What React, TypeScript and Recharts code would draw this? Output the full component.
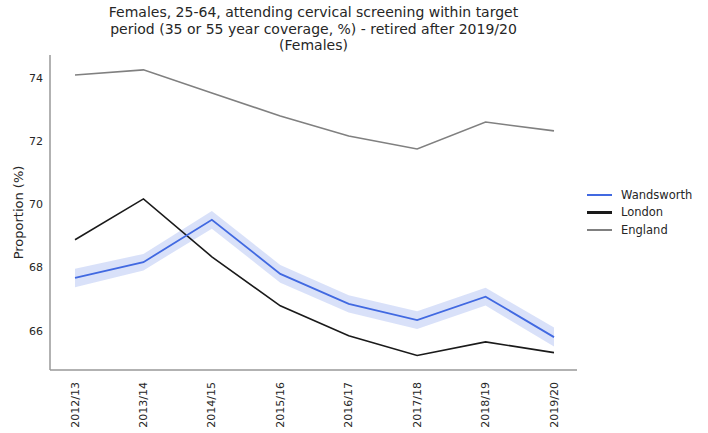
import React from "react";
import { ComposedChart, Line, Area, XAxis, YAxis } from "recharts";

// reading the picture, values in %
const years = ["2012/13", "2013/14", "2014/15", "2015/16", "2016/17", "2017/18", "2018/19", "2019/20"];
const wandsworth = [67.67, 68.17, 69.51, 67.8, 66.85, 66.34, 67.08, 65.8];
const wandsworthLower = [67.38, 67.91, 69.23, 67.52, 66.58, 66.06, 66.8, 65.5];
const wandsworthUpper = [67.96, 68.43, 69.79, 68.08, 67.12, 66.62, 67.36, 66.1];
const london = [68.88, 70.17, 68.34, 66.79, 65.84, 65.22, 65.65, 65.31];
const england = [74.09, 74.25, 73.52, 72.79, 72.16, 71.75, 72.6, 72.32];
const yTicks = [66, 68, 70, 72, 74];

const seriesNames = ["Wandsworth", "London", "England"];
const seriesColors = ["#4169e1", "#1a1a1a", "#808080"];

const font = "'DejaVu Sans', sans-serif";

const data = years.map((y, i) => ({
  year: y,
  wandsworth: wandsworth[i],
  band: [wandsworthLower[i], wandsworthUpper[i]],
  london: london[i],
  england: england[i],
}));

const XTick = (props: any) => {
  const { x, y, payload } = props;
  return (
    <text
      x={x}
      y={y + 10}
      transform={`rotate(-90, ${x}, ${y + 10})`}
      textAnchor="end"
      dominantBaseline="central"
      fontSize={11}
      fontFamily={font}
      fill="#262626"
    >
      {payload.value}
    </text>
  );
};

const App = () => {
  return (
    <div style={{ position: "absolute", left: 0, top: 0, width: 708, height: 433, background: "#fff" }}>
      {/* Title */}
      <div
        style={{
          position: "absolute",
          left: 50,
          top: 4,
          width: 527,
          textAlign: "center",
          fontFamily: font,
          fontSize: 14,
          lineHeight: "16.5px",
          color: "#262626",
        }}
      >
        Females, 25-64, attending cervical screening within target
        <br />
        period (35 or 55 year coverage, %) - retired after 2019/20
        <br />
        (Females)
      </div>

      <ComposedChart
        width={708}
        height={433}
        data={data}
        margin={{ top: 55, right: 131, bottom: 0, left: 0 }}
      >
        <XAxis
          dataKey="year"
          padding={{ left: 25, right: 23 }}
          height={63}
          tickLine={false}
          tickSize={0}
          interval={0}
          stroke="#999999"
          strokeWidth={1.5}
          tick={<XTick />}
        />
        <YAxis
          width={50}
          domain={[64.76, 74.72]}
          ticks={yTicks}
          tickLine={false}
          tickSize={0}
          tickMargin={7}
          stroke="#999999"
          strokeWidth={1.5}
          tick={{ fontSize: 11, fontFamily: font, fill: "#262626" }}
          label={{
            value: "Proportion (%)",
            angle: -90,
            position: "insideLeft",
            dx: 13,
            style: { fontSize: 13, fontFamily: font, fill: "#262626", textAnchor: "middle" },
          }}
        />
        <Area
          type="linear"
          dataKey="band"
          stroke="none"
          fill="#4169e1"
          fillOpacity={0.2}
          isAnimationActive={false}
          activeDot={false}
        />
        <Line type="linear" dataKey="england" stroke={seriesColors[2]} strokeWidth={1.6} dot={false} isAnimationActive={false} />
        <Line type="linear" dataKey="london" stroke={seriesColors[1]} strokeWidth={1.6} dot={false} isAnimationActive={false} />
        <Line type="linear" dataKey="wandsworth" stroke={seriesColors[0]} strokeWidth={1.8} dot={false} isAnimationActive={false} />
      </ComposedChart>

      {/* Legend */}
      <div style={{ position: "absolute", left: 587, top: 186, fontFamily: font, fontSize: 11.5, color: "#262626" }}>
        {seriesNames.map((name, i) => (
          <div key={name} style={{ display: "flex", alignItems: "center", height: 17.5 }}>
            <div style={{ width: 25, height: i === 1 ? 2.5 : 1.8, background: seriesColors[i], marginRight: 9 }} />
            <span>{name}</span>
          </div>
        ))}
      </div>
    </div>
  );
};

export default App;
